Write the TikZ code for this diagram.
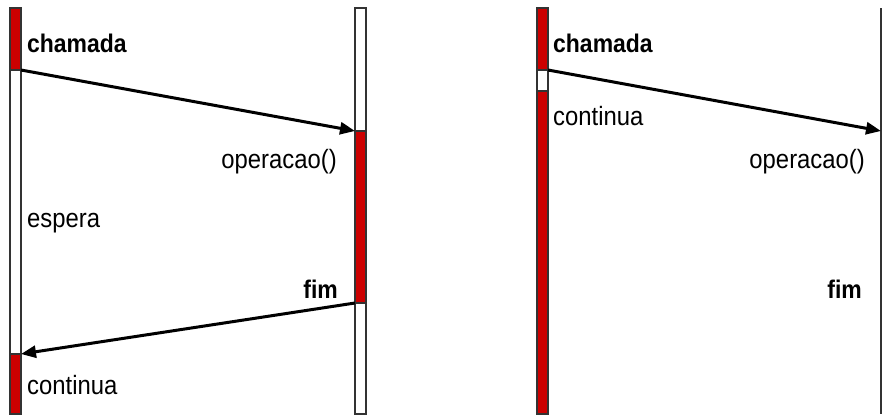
\documentclass[tikz,border=0pt]{standalone}
\usepackage{fontspec}
\setmainfont[FakeStretch=0.9]{Liberation Sans}
\usetikzlibrary{arrows.meta}
\definecolor{barred}{HTML}{CC0000}
\definecolor{baredge}{HTML}{333333}
\tikzset{
  lbl/.style={inner sep=0pt, font=\fontsize{26.5}{29}\selectfont},
  blbl/.style={lbl, font=\fontsize{25.5}{29}\selectfont\bfseries},
  msg/.style={line width=3pt, -{Triangle[length=15pt,width=12pt]}},
  active/.style={fill=barred, draw=baredge, line width=1.2pt},
  idle/.style={fill=white, draw=baredge, line width=1.2pt}
}
\begin{document}
\begin{tikzpicture}[x=1pt,y=-1pt]
  \useasboundingbox (0,0) rectangle (882,415);
  % Synchronous call: caller and callee bars
  \draw[idle] (10,8) rectangle (21,414);
  \draw[active] (10,8) rectangle (21,70);
  \draw[active] (10,354) rectangle (21,414);
  \draw[idle] (355,8) rectangle (366,414);
  \draw[active] (355,131) rectangle (366,303);
  % Asynchronous call: caller bar
  \draw[active] (537,8) rectangle (548,414);
  \draw[idle] (537,70) rectangle (548,91);
  \draw[baredge, line width=1.2pt] (881,8) -- (881,414);
  % Message ends
  \coordinate (callA) at (21,70);
  \coordinate (opA) at (355,131);
  \coordinate (endA) at (355,303);
  \coordinate (backA) at (21,354);
  \coordinate (callB) at (548,70);
  \coordinate (opB) at (881,131);
  % Messages
  \draw[msg] (callA) -- (opA);
  \draw[msg] (endA) -- (backA);
  \draw[msg] (callB) -- (opB);
  % Labels
  \node[blbl, anchor=base west] (chamadaA) at (27,52) {chamada};
  \node[lbl, anchor=base east] (operA) at (337,168) {operacao()};
  \node[lbl, anchor=base west] (espera) at (27,227) {espera};
  \node[blbl, anchor=base east] (fimA) at (338,298) {fim};
  \node[lbl, anchor=base west] (contA) at (27,394) {continua};
  \node[blbl, anchor=base west] (chamadaB) at (553,52) {chamada};
  \node[lbl, anchor=base west] (contB) at (553,125) {continua};
  \node[lbl, anchor=base east] (operB) at (865,168) {operacao()};
  \node[blbl, anchor=base east] (fimB) at (862,298) {fim};
\end{tikzpicture}
\end{document}
